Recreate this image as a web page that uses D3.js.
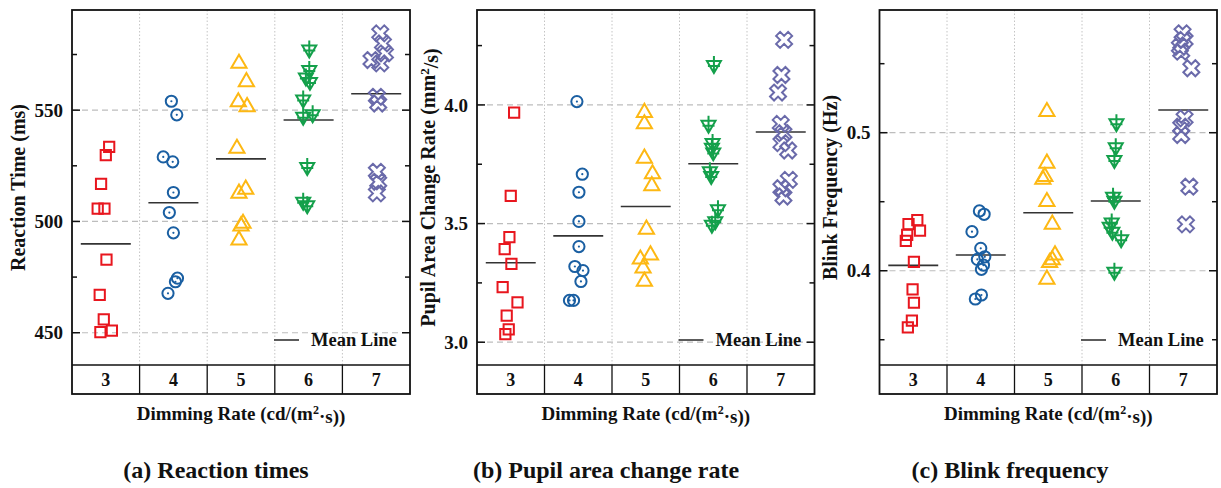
<!DOCTYPE html>
<html>
<head>
<meta charset="utf-8">
<script src="https://cdn.jsdelivr.net/npm/d3@7"></script>
<style>
  body { margin: 0; background: #fff; }
  text { font-family: "Times New Roman", "Liberation Serif", serif; font-weight: bold; fill: #111; }
</style>
</head>
<body>
<div id="chart"></div>
<script>
// dimming rate categories
const categories = [3, 4, 5, 6, 7]

// (a) reaction time, ms
const rtValues = [
  [533.5, 529.8, 516.9, 505.8, 505.8, 482.9, 467.0, 456.0, 450.3, 450.9],
  [554.0, 547.9, 529.0, 526.8, 513.0, 504.0, 494.9, 474.5, 472.9, 467.7],
  [571.0, 562.7, 553.7, 551.5, 532.8, 514.4, 512.6, 499.1, 497.9, 491.6],
  [577.3, 568.0, 564.7, 562.7, 554.8, 548.2, 547.0, 524.5, 508.8, 507.3],
  [584.5, 580.0, 575.5, 572.5, 571.0, 556.0, 553.0, 522.3, 517.8, 512.6]
]
const rtJitter = [
  [0.05, 0.00, -0.07, -0.12, -0.02, 0.01, -0.09, -0.03, -0.08, 0.09],
  [-0.03, 0.05, -0.15, -0.01, 0.00, -0.06, 0.00, 0.06, 0.03, -0.08],
  [-0.03, 0.08, -0.04, 0.09, -0.06, 0.07, -0.03, 0.03, 0.00, -0.03],
  [0.01, 0.01, -0.04, 0.02, -0.08, 0.06, -0.08, -0.02, -0.08, -0.02],
  [0.06, 0.10, 0.13, -0.07, 0.06, 0.01, 0.03, 0.01, 0.03, 0.01]
]
const rtMeans = [489.9, 508.4, 528.1, 545.6, 557.4]

// (b) pupil area change rate, mm2/s
const pupilValues = [
  [3.968, 3.617, 3.443, 3.392, 3.330, 3.232, 3.168, 3.112, 3.054, 3.034],
  [4.014, 3.708, 3.632, 3.509, 3.403, 3.319, 3.302, 3.256, 3.176, 3.176],
  [3.968, 3.920, 3.775, 3.709, 3.659, 3.476, 3.367, 3.350, 3.312, 3.256],
  [4.168, 3.916, 3.840, 3.820, 3.800, 3.720, 3.700, 3.560, 3.510, 3.495],
  [4.274, 4.126, 4.052, 3.920, 3.881, 3.839, 3.808, 3.684, 3.649, 3.614]
]
const pupilJitter = [
  [0.05, 0.00, -0.02, -0.09, 0.01, -0.12, 0.10, -0.06, -0.03, -0.08],
  [-0.02, 0.06, 0.01, 0.01, 0.01, -0.05, 0.07, 0.04, -0.13, -0.07],
  [-0.02, -0.02, -0.02, 0.10, 0.09, 0.01, 0.07, -0.08, -0.04, -0.02],
  [0.01, -0.07, -0.01, -0.02, 0.00, -0.05, -0.03, 0.07, 0.03, -0.02],
  [0.05, 0.01, -0.04, 0.00, 0.04, 0.01, 0.11, 0.12, 0.01, 0.04]
]
const pupilMeans = [3.335, 3.448, 3.572, 3.752, 3.886]

// (c) blink frequency, Hz
const blinkValues = [
  [0.4367, 0.4338, 0.4290, 0.4259, 0.4217, 0.4065, 0.3865, 0.3768, 0.3638, 0.3590],
  [0.4433, 0.4409, 0.4283, 0.4162, 0.4101, 0.4082, 0.4040, 0.4010, 0.3824, 0.3795],
  [0.5152, 0.4778, 0.4681, 0.4662, 0.4500, 0.4336, 0.4114, 0.4078, 0.4058, 0.3938],
  [0.5068, 0.4894, 0.4802, 0.4536, 0.4507, 0.4350, 0.4319, 0.4283, 0.4228, 0.3993],
  [0.5720, 0.5672, 0.5623, 0.5587, 0.5467, 0.5104, 0.5043, 0.4983, 0.4609, 0.4336]
]
const blinkJitter = [
  [0.06, -0.07, 0.10, -0.09, -0.11, 0.01, -0.01, 0.01, -0.02, -0.08],
  [-0.02, 0.05, -0.13, 0.00, 0.06, -0.05, 0.04, 0.01, 0.01, -0.08],
  [-0.02, -0.02, -0.05, -0.08, -0.02, 0.06, 0.10, 0.06, 0.02, -0.02],
  [0.01, 0.00, -0.02, -0.04, -0.02, -0.06, -0.09, -0.05, 0.08, -0.02],
  [-0.01, 0.02, -0.05, -0.03, 0.12, 0.02, -0.03, -0.03, 0.09, 0.04]
]
const blinkMeans = [0.4039, 0.4114, 0.4420, 0.4505, 0.5164]

const colors = ["#e8161e", "#1a5fa2", "#fdb813", "#14a04b", "#6a6aaa"]

const width = 1221, height = 488
const plotTop = 10, plotBottom = 365, boxBottom = 394

const panels = [
  { left: 72, right: 410, values: rtValues, jitter: rtJitter, means: rtMeans,
    domain: [435.5, 595], major: [450, 500, 550], minor: [475, 525, 575], fmt: d3.format("d"),
    title: ["Reaction Time (ms)"], titleX: 18, sub: "(a) Reaction times", subX: 216 },
  { left: 477, right: 814.5, values: pupilValues, jitter: pupilJitter, means: pupilMeans,
    domain: [2.904, 4.4], major: [3.0, 3.5, 4.0], minor: [3.25, 3.75, 4.25], fmt: d3.format(".1f"),
    title: ["Pupil Area Change Rate (mm", "2", "/s)"], titleX: 428, sub: "(b) Pupil area change rate", subX: 606 },
  { left: 879.5, right: 1217, values: blinkValues, jitter: blinkJitter, means: blinkMeans,
    domain: [0.3317, 0.5889], major: [0.4, 0.5], minor: [0.35, 0.45, 0.55], fmt: d3.format(".1f"),
    title: ["Blink Frequency (Hz)"], titleX: 830, sub: "(c) Blink frequency", subX: 1010 }
]

const svg = d3.select("#chart").append("svg")
  .attr("width", width)
  .attr("height", height)

// marker shapes, one per category
function drawMarker(g, i, color) {
  if (i === 0) {
    g.append("path").attr("d", d3.symbol(d3.symbolSquare, 105)())
      .attr("fill", "none").attr("stroke", color).attr("stroke-width", 2)
  } else if (i === 1) {
    g.append("circle").attr("r", 5.6)
      .attr("fill", "none").attr("stroke", color).attr("stroke-width", 2)
    g.append("circle").attr("r", 1.1).attr("fill", color)
  } else if (i === 2) {
    g.append("path").attr("d", d3.symbol(d3.symbolTriangle, 100)())
      .attr("fill", "none").attr("stroke", color).attr("stroke-width", 2)
  } else if (i === 3) {
    g.append("path").attr("d", "M-7,-4L7,-4L0,8Z M0,-9L0,8 M-6,1L6,1")
      .attr("fill", "none").attr("stroke", color).attr("stroke-width", 2)
  } else {
    g.append("path").attr("d", d3.symbol(d3.symbolCross, 160)())
      .attr("transform", "rotate(45)")
      .attr("fill", "none").attr("stroke", color).attr("stroke-width", 2)
  }
}

panels.forEach(p => {
  const g = svg.append("g")

  const x = d3.scaleLinear()
    .domain([categories[0] - 0.5, categories[categories.length - 1] + 0.5])
    .range([p.left, p.right])
  const y = d3.scaleLinear().domain(p.domain).range([plotBottom, plotTop])
  const bw = x(1) - x(0)

  // horizontal dashed grid at major ticks
  g.selectAll(".hgrid").data(p.major).enter().append("line")
    .attr("x1", p.left).attr("x2", p.right)
    .attr("y1", d => y(d)).attr("y2", d => y(d))
    .attr("stroke", "#bdbdbd").attr("stroke-width", 1.2)
    .attr("stroke-dasharray", "6,4")

  // vertical dotted separators between categories
  g.selectAll(".vgrid").data(categories.slice(1)).enter().append("line")
    .attr("x1", d => x(d - 0.5)).attr("x2", d => x(d - 0.5))
    .attr("y1", plotTop).attr("y2", plotBottom)
    .attr("stroke", "#c4c4c4").attr("stroke-width", 1)
    .attr("stroke-dasharray", "1.5,2")

  // inward ticks both sides
  const tickSets = [[p.major, 8], [p.minor, 5]]
  tickSets.forEach(([ticks, len]) => {
    g.selectAll(null).data(ticks).enter().append("line")
      .attr("x1", p.left).attr("x2", p.left + len)
      .attr("y1", d => y(d)).attr("y2", d => y(d))
      .attr("stroke", "#111").attr("stroke-width", 1.5)
    g.selectAll(null).data(ticks).enter().append("line")
      .attr("x1", p.right).attr("x2", p.right - len)
      .attr("y1", d => y(d)).attr("y2", d => y(d))
      .attr("stroke", "#111").attr("stroke-width", 1.5)
  })

  // tick labels
  g.selectAll(".ylab").data(p.major).enter().append("text")
    .attr("x", p.left - 9).attr("y", d => y(d))
    .attr("dy", "0.35em").attr("text-anchor", "end")
    .attr("font-size", 19)
    .text(d => p.fmt(d))

  // y title
  const t = g.append("text")
    .attr("transform", `translate(${p.titleX},${(plotTop + plotBottom) / 2}) rotate(-90)`)
    .attr("text-anchor", "middle").attr("dy", "0.35em")
    .attr("font-size", 20)
  t.append("tspan").text(p.title[0])
  if (p.title.length > 1) {
    t.append("tspan").attr("dy", "-0.45em").attr("font-size", 13).text(p.title[1])
    t.append("tspan").attr("dy", "0.45em").text(p.title[2])
  }

  // mean lines
  g.selectAll(".mean").data(p.means).enter().append("line")
    .attr("x1", (d, i) => x(categories[i]) - bw * 0.37)
    .attr("x2", (d, i) => x(categories[i]) + bw * 0.37)
    .attr("y1", d => y(d)).attr("y2", d => y(d))
    .attr("stroke", "#333").attr("stroke-width", 1.6)

  // points
  p.values.forEach((vals, i) => {
    vals.forEach((v, j) => {
      const m = g.append("g")
        .attr("transform", `translate(${x(categories[i] + p.jitter[i][j])},${y(v)})`)
      drawMarker(m, i, colors[i])
    })
  })

  // legend
  g.append("line")
    .attr("x1", p.right - 136).attr("x2", p.right - 111)
    .attr("y1", 340).attr("y2", 340)
    .attr("stroke", "#333").attr("stroke-width", 1.6)
  g.append("text")
    .attr("x", p.right - 99).attr("y", 340).attr("dy", "0.35em")
    .attr("font-size", 18.5).text("Mean Line")

  // frame and category row
  g.append("rect")
    .attr("x", p.left).attr("y", plotTop)
    .attr("width", p.right - p.left).attr("height", boxBottom - plotTop)
    .attr("fill", "none").attr("stroke", "#111").attr("stroke-width", 1.8)
  g.append("line")
    .attr("x1", p.left).attr("x2", p.right)
    .attr("y1", plotBottom).attr("y2", plotBottom)
    .attr("stroke", "#111").attr("stroke-width", 1.5)
  g.selectAll(".sep").data(categories.slice(1)).enter().append("line")
    .attr("x1", d => x(d - 0.5)).attr("x2", d => x(d - 0.5))
    .attr("y1", plotBottom).attr("y2", boxBottom)
    .attr("stroke", "#111").attr("stroke-width", 1.3)
  g.selectAll(".cat").data(categories).enter().append("text")
    .attr("x", d => x(d)).attr("y", (plotBottom + boxBottom) / 2)
    .attr("dy", "0.35em").attr("text-anchor", "middle")
    .attr("font-size", 18).text(d => d)

  // x title
  const xt = g.append("text")
    .attr("x", (p.left + p.right) / 2).attr("y", 413).attr("dy", "0.35em")
    .attr("text-anchor", "middle").attr("font-size", 19)
  xt.append("tspan").text("Dimming Rate (cd/(m")
  xt.append("tspan").attr("dy", "-0.45em").attr("font-size", 12).text("2")
  xt.append("tspan").attr("dy", "0.45em").text("·s))")

  // subtitle
  g.append("text")
    .attr("x", p.subX).attr("y", 470).attr("dy", "0.35em")
    .attr("text-anchor", "middle").attr("font-size", 24)
    .text(p.sub)
})
</script>
</body>
</html>
